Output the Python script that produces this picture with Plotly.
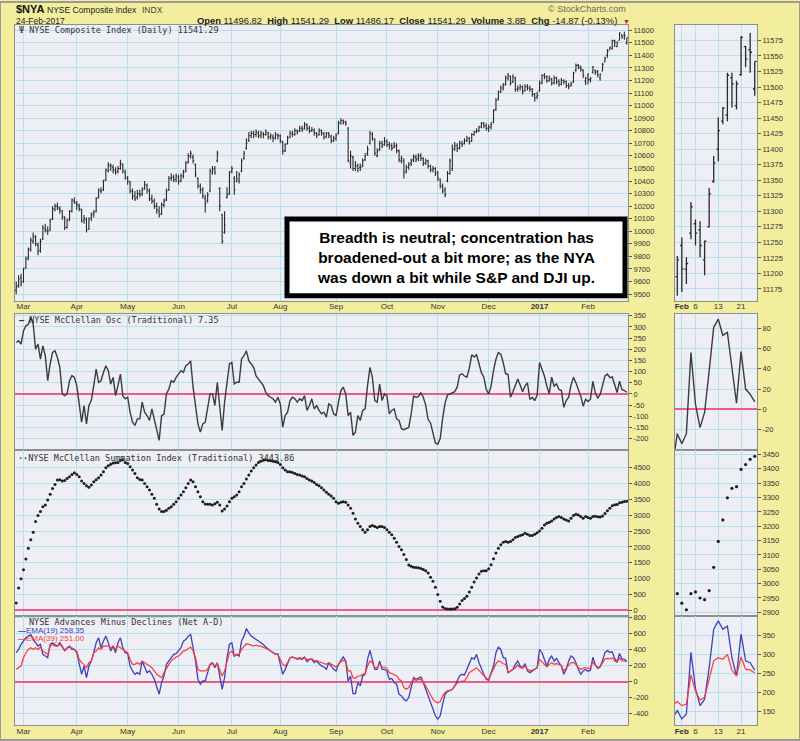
import pandas as pd
import plotly.graph_objects as go

# --- trading days on the chart (NYSE calendar, Feb 2016 - Feb 2017) ---
holidays = ["2016-03-25", "2016-05-30", "2016-07-04", "2016-09-05", "2016-11-24",
            "2016-12-26", "2017-01-02", "2017-01-16", "2017-02-20"]
dates = pd.bdate_range("2016-02-25", "2017-02-24", freq="C",
                       holidays=holidays).strftime("%Y-%m-%d").tolist()

month_labels = ["Mar", "Apr", "May", "Jun", "Jul", "Aug", "Sep", "Oct", "Nov", "Dec",
                "<b>2017</b>", "Feb"]
zoom_ticks = ["2017-02-01", "2017-02-06", "2017-02-13", "2017-02-21"]
zoom_labels = ["<b>Feb</b>", "6", "13", "21"]

# --- $NYA daily bars ---
opens = [9530, 9570, 9630,
         9600, 9710, 9790, 9850, 9920, 9950, 9890, 9850, 9940, 10020, 10000, 10010, 10100, 10170, 10200, 10180, 10160, 10110, 10030, 10100, 10160, 10240,
         10220, 10200, 10170, 10090, 10090, 10020, 10110, 10140, 10160, 10270, 10320, 10330, 10410, 10480, 10520, 10510, 10480, 10480, 10500, 10530, 10470,
         10420, 10390, 10320, 10280, 10270, 10300, 10300, 10340, 10360, 10320, 10260, 10240, 10200, 10160, 10140, 10210, 10250, 10330, 10420, 10430, 10410,
         10430, 10400, 10440, 10480, 10550, 10600, 10590, 10530, 10420, 10360, 10330, 10260, 10240, 10320, 10470, 10500, 10560, 10340, 10130, 9990, 10270, 10300,
         10480, 10420, 10400, 10400, 10480, 10580, 10660, 10720, 10760, 10780, 10770, 10780, 10760, 10770, 10770, 10780, 10750, 10750, 10740, 10760,
         10760, 10710, 10640, 10700, 10750, 10780, 10770, 10800, 10800, 10820, 10820, 10840, 10820, 10800, 10800, 10780, 10770, 10800, 10780, 10750, 10780, 10750, 10720,
         10740, 10780, 10860, 10880, 10870, 10820, 10540, 10590, 10500, 10520, 10510, 10520, 10570, 10620, 10700, 10770, 10730, 10600, 10650, 10700, 10690,
         10710, 10690, 10680, 10670, 10680, 10640, 10560, 10560, 10480, 10510, 10540, 10570, 10590, 10580, 10600, 10580, 10540, 10560, 10520, 10490, 10500,
         10470, 10410, 10360, 10330, 10400, 10460, 10500, 10660, 10680, 10660, 10700, 10700, 10720, 10740, 10720, 10770, 10790, 10800, 10830, 10860, 10840,
         10820, 10830, 10870, 10970, 11050, 11110, 11140, 11170, 11220, 11230, 11190, 11220, 11130, 11140, 11150, 11120, 11150, 11140, 11130, 11090, 11070,
         11120, 11180, 11240, 11230, 11200, 11210, 11180, 11220, 11190, 11170, 11200, 11190, 11160, 11160, 11190, 11280, 11320, 11300, 11280, 11195,
         11245, 11207, 11265, 11280, 11270, 11222, 11275, 11348, 11400, 11445, 11455, 11515, 11470, 11520, 11565, 11560, 11496.82]
highs = [9600, 9650, 9660,
         9710, 9800, 9870, 9950, 9990, 9970, 9910, 9940, 10050, 10060, 10040, 10100, 10200, 10220, 10230, 10200, 10170, 10120, 10100, 10170, 10260, 10270,
         10240, 10220, 10180, 10130, 10110, 10110, 10150, 10170, 10270, 10340, 10350, 10410, 10500, 10550, 10540, 10530, 10510, 10520, 10570, 10540, 10490,
         10440, 10400, 10340, 10320, 10330, 10330, 10350, 10400, 10380, 10340, 10290, 10260, 10230, 10200, 10230, 10260, 10340, 10440, 10460, 10450, 10460,
         10450, 10460, 10490, 10560, 10620, 10640, 10610, 10540, 10430, 10380, 10350, 10290, 10310, 10500, 10520, 10520, 10640, 10350, 10140, 10160, 10350, 10480,
         10520, 10440, 10480, 10470, 10580, 10640, 10740, 10790, 10800, 10800, 10810, 10800, 10800, 10790, 10810, 10790, 10780, 10770, 10790, 10780,
         10770, 10720, 10700, 10760, 10800, 10800, 10820, 10810, 10840, 10840, 10870, 10860, 10840, 10830, 10820, 10790, 10820, 10810, 10790, 10790, 10790, 10770, 10760,
         10780, 10880, 10900, 10890, 10880, 10830, 10640, 10600, 10560, 10540, 10540, 10580, 10620, 10680, 10800, 10790, 10740, 10660, 10720, 10720, 10750,
         10730, 10710, 10700, 10710, 10700, 10650, 10600, 10580, 10530, 10550, 10580, 10610, 10610, 10620, 10620, 10590, 10580, 10570, 10530, 10520, 10510,
         10480, 10420, 10380, 10350, 10480, 10580, 10690, 10710, 10700, 10720, 10720, 10740, 10760, 10750, 10780, 10800, 10820, 10840, 10870, 10870, 10860,
         10850, 10870, 10970, 11060, 11120, 11160, 11180, 11240, 11260, 11240, 11250, 11230, 11160, 11170, 11160, 11170, 11170, 11160, 11140, 11100, 11110,
         11200, 11250, 11260, 11240, 11240, 11220, 11240, 11230, 11210, 11220, 11210, 11200, 11180, 11190, 11270, 11335, 11330, 11320, 11290, 11228,
         11258, 11226, 11315, 11287, 11284, 11253, 11338, 11389, 11451, 11468, 11523, 11523, 11510, 11582, 11566, 11587, 11541.29]
lows = [9500, 9550, 9560,
        9590, 9700, 9770, 9840, 9900, 9880, 9810, 9830, 9930, 9990, 9970, 10000, 10090, 10160, 10170, 10140, 10090, 10010, 10020, 10080, 10150, 10220,
        10170, 10160, 10070, 10060, 9990, 10010, 10080, 10110, 10150, 10260, 10300, 10320, 10400, 10470, 10480, 10460, 10450, 10460, 10490, 10460, 10410,
        10370, 10300, 10250, 10240, 10250, 10270, 10280, 10330, 10300, 10240, 10220, 10180, 10140, 10110, 10130, 10190, 10240, 10320, 10400, 10390, 10390,
        10370, 10390, 10420, 10470, 10540, 10580, 10540, 10430, 10340, 10300, 10260, 10150, 10230, 10310, 10450, 10450, 10550, 10160, 9900, 9980, 10260, 10290,
        10460, 10290, 10390, 10380, 10470, 10570, 10650, 10710, 10740, 10740, 10750, 10740, 10740, 10740, 10760, 10730, 10730, 10710, 10730, 10730,
        10700, 10610, 10630, 10690, 10740, 10750, 10760, 10770, 10790, 10790, 10810, 10800, 10780, 10790, 10760, 10740, 10760, 10760, 10730, 10740, 10740, 10700, 10710,
        10720, 10770, 10850, 10850, 10840, 10550, 10500, 10480, 10480, 10470, 10480, 10510, 10560, 10600, 10690, 10720, 10600, 10590, 10640, 10660, 10680,
        10670, 10650, 10640, 10660, 10620, 10550, 10540, 10420, 10460, 10490, 10520, 10550, 10550, 10560, 10560, 10520, 10530, 10500, 10470, 10470, 10440,
        10400, 10340, 10300, 10270, 10390, 10450, 10480, 10640, 10630, 10650, 10670, 10690, 10710, 10690, 10710, 10760, 10780, 10790, 10820, 10820, 10800,
        10790, 10810, 10860, 10960, 11040, 11100, 11120, 11160, 11200, 11160, 11180, 11110, 11110, 11120, 11090, 11110, 11120, 11110, 11070, 11030, 11050,
        11110, 11170, 11210, 11180, 11190, 11160, 11170, 11170, 11150, 11160, 11170, 11140, 11130, 11150, 11180, 11270, 11290, 11270, 11220, 11164,
        11170, 11183, 11255, 11245, 11226, 11197, 11274, 11346, 11380, 11440, 11445, 11467, 11464, 11518, 11532, 11523, 11486.17]
closes = [9560, 9620, 9590,
          9700, 9780, 9860, 9930, 9960, 9900, 9840, 9920, 10030, 10010, 10000, 10090, 10180, 10200, 10190, 10170, 10120, 10030, 10090, 10160, 10250, 10230,
          10210, 10180, 10080, 10100, 10010, 10100, 10130, 10150, 10260, 10330, 10320, 10400, 10490, 10530, 10520, 10490, 10470, 10500, 10540, 10480, 10430,
          10400, 10320, 10280, 10260, 10300, 10290, 10330, 10370, 10330, 10260, 10240, 10200, 10170, 10130, 10210, 10240, 10320, 10420, 10430, 10410, 10440,
          10400, 10440, 10470, 10540, 10600, 10620, 10560, 10450, 10360, 10330, 10280, 10220, 10290, 10480, 10490, 10470, 10620, 10200, 9920, 10050, 10290, 10470,
          10500, 10330, 10420, 10450, 10560, 10620, 10700, 10760, 10780, 10770, 10790, 10760, 10780, 10770, 10790, 10750, 10760, 10740, 10770, 10760,
          10720, 10640, 10690, 10740, 10780, 10770, 10800, 10790, 10820, 10810, 10850, 10820, 10800, 10810, 10780, 10760, 10800, 10780, 10750, 10780, 10760, 10720, 10740,
          10760, 10860, 10880, 10870, 10860, 10560, 10600, 10500, 10520, 10500, 10510, 10560, 10600, 10650, 10780, 10740, 10620, 10640, 10700, 10680, 10720,
          10690, 10680, 10660, 10680, 10640, 10570, 10580, 10470, 10510, 10530, 10560, 10590, 10570, 10600, 10580, 10540, 10560, 10520, 10490, 10500, 10460,
          10420, 10360, 10320, 10290, 10460, 10560, 10650, 10680, 10660, 10700, 10690, 10720, 10740, 10710, 10770, 10790, 10800, 10830, 10860, 10840, 10820,
          10830, 10850, 10960, 11040, 11110, 11140, 11160, 11220, 11240, 11180, 11230, 11130, 11140, 11150, 11110, 11150, 11140, 11130, 11090, 11060, 11080,
          11180, 11240, 11230, 11200, 11220, 11180, 11220, 11190, 11170, 11200, 11190, 11160, 11150, 11170, 11260, 11320, 11310, 11290, 11240, 11222,
          11207, 11216, 11307, 11265, 11245, 11252, 11328, 11378, 11430, 11466, 11519, 11505, 11505, 11580, 11545, 11556, 11541.29]

# --- NYSE McClellan Oscillator ---
osc = [230, 238, 223,
       282, 305, 312, 345, 312, 200, 223, 156, 215, 171, 59, 134, 186, 193, 163, 119, 0, -8, 0, 59, 82, 74,
       37, -45, -127, -52, -134, -52, -30, 37, 111, 52, 59, 96, 126, 104, 44, 74, -8, 37, 89, -8, -22,
       -15, -82, -127, -141, -112, -112, -37, -82, -97, -119, -67, -112, -157, -208, -97, -90, 0, 22, 59, 52, 74,
       89, 104, 96, 126, 134, 148, 30, -67, -134, -171, -134, -127, -52, 0, 0, -52, 52, -52, -164, -37, 52, 134,
       141, 44, 52, 52, 156, 171, 193, 149, 134, 119, 81, 67, 52, 37, 7, -8, -15, -22, -37, -15,
       -45, -149, -97, -82, -30, -15, -22, -37, -22, -30, -8, -74, -52, -22, -67, -52, -74, -89, -82, -104, -45, -52, -89,
       -97, -37, 15, 30, 0, -97, -82, -186, -171, -97, -119, -74, -67, 37, 119, 74, -30, -37, 44, -30, 0,
       -8, -89, -74, -67, -112, -119, -156, -160, -155, -150, -90, -10, -15, -12, 5, -15, -50, -115, -130, -175, -220,
       -225, -200, -110, -40, -5, 0, 3, 10, 30, 85, 90, 80, 75, 115, 175, 165, 175, 135, 95, 75, 20,
       0, 35, 105, 155, 185, 178, 140, 90, 88, -15, 10, 35, 67, 40, 10, 35, 50, -25, -15, -30, -5,
       141, 110, 80, 35, 0, 75, 35, 45, 20, 15, -60, -30, -15, 40, 74, 50, 20, -10, -55, -24,
       -34, -24, 56, 5, -18, -3, 38, 81, 89, 73, 76, 40, 6, 57, 20, 15, 7.35]

# --- NYSE McClellan Summation Index ---
summation = [231, 703, 997,
             1280, 1616, 1962, 2224, 2466, 2801, 2990, 3116, 3273, 3326, 3483, 3661, 3850, 3976, 4113, 4123, 4081, 4102, 4165, 4217, 4291, 4343,
             4291, 4217, 4081, 4008, 3934, 3882, 3955, 4060, 4123, 4186, 4270, 4375, 4501, 4564, 4616, 4648, 4658, 4669, 4731, 4752, 4669,
             4637, 4532, 4427, 4322, 4186, 4134, 4113, 4008, 3903, 3798, 3661, 3536, 3347, 3200, 3116, 3116, 3158, 3221, 3273, 3347, 3431,
             3536, 3640, 3745, 3871, 4008, 4113, 4060, 3903, 3745, 3588, 3431, 3357, 3347, 3347, 3326, 3368, 3410, 3326, 3137, 3200, 3294, 3431,
             3536, 3588, 3640, 3745, 3903, 4008, 4144, 4270, 4396, 4501, 4585, 4669, 4710, 4742, 4752, 4731, 4721, 4710, 4690, 4669,
             4606, 4501, 4427, 4375, 4375, 4354, 4322, 4291, 4270, 4238, 4217, 4165, 4113, 4081, 4039, 3976, 3934, 3871, 3798, 3724, 3661, 3609, 3536,
             3431, 3378, 3410, 3431, 3410, 3326, 3221, 3063, 2885, 2749, 2644, 2539, 2466, 2539, 2644, 2675, 2644, 2612, 2644, 2644, 2612,
             2539, 2466, 2382, 2277, 2151, 2015, 1910, 1760, 1600, 1430, 1390, 1360, 1350, 1340, 1320, 1290, 1249, 1175, 1039, 913, 724,
             493, 284, 105, 55, 40, 35, 38, 45, 95, 200, 305, 368, 441, 578, 724, 892, 1018, 1144, 1228, 1249, 1249,
             1312, 1438, 1627, 1805, 1962, 2067, 2151, 2172, 2151, 2172, 2224, 2298, 2329, 2361, 2382, 2434, 2403, 2361, 2361, 2403, 2450,
             2507, 2591, 2696, 2749, 2780, 2822, 2885, 2927, 2958, 2927, 2885, 2854, 2822, 2906, 2990, 3032, 3011, 2958, 2906, 2965,
             2932, 2909, 2965, 2971, 2950, 2944, 2976, 3057, 3147, 3222, 3299, 3332, 3338, 3398, 3415, 3433, 3443.86]

# --- NYSE Advances minus Declines, EMA(19) and EMA(39) ---
ema19 = [362, 403, 466,
         508, 549, 570, 591, 528, 487, 445, 466, 341, 320, 299, 466, 487, 466, 445, 487, 445, 391, 424, 445, 403, 403,
         362, 216, 91, 195, 49, 195, 258, 362, 487, 549, 424, 508, 570, 487, 383, 445, 362, 487, 549, 424, 362,
         349, 195, 133, 91, 112, 91, 258, 174, 112, 133, 91, 28, -76, -159, -13, 70, 216, 258, 299, 341, 349,
         383, 424, 508, 528, 570, 591, 424, 258, 28, -34, 7, 7, 112, 216, 237, 174, 237, 91, -97, 49, 299, 466,
         487, 320, 341, 320, 508, 570, 666, 612, 570, 549, 528, 508, 487, 466, 433, 403, 383, 362, 341, 349,
         237, 91, 153, 216, 299, 308, 291, 278, 291, 278, 308, 249, 278, 278, 237, 258, 224, 195, 183, 153, 237, 195, 153,
         133, 216, 266, 308, 258, 7, 70, -151, -151, -13, -55, 70, 91, 278, 391, 278, 153, 153, 258, 153, 153,
         133, 28, 41, -13, -34, -159, -180, -221, -242, -201, -76, 49, 28, 41, 58, -13, -97, -201, -263, -347, -430,
         -472, -430, -284, -159, -126, -109, -97, -55, 10, 70, 91, 83, 153, 237, 299, 278, 341, 237, 153, 91, 28,
         16, 112, 195, 362, 433, 403, 299, 291, 112, 133, 153, 216, 258, 195, 174, 224, 133, 112, 133, 150, 174,
         403, 362, 278, 195, 278, 320, 258, 291, 237, 195, 91, 153, 258, 320, 299, 237, 153, 91, 133, 152,
         130, 143, 305, 209, 165, 182, 265, 366, 388, 366, 374, 291, 243, 353, 283, 278, 258.35]
ema39 = [153, 174, 195,
         299, 362, 403, 424, 403, 424, 403, 433, 383, 362, 341, 445, 466, 445, 445, 466, 433, 383, 416, 433, 424, 403,
         383, 278, 237, 216, 174, 237, 258, 362, 383, 424, 403, 445, 445, 445, 424, 445, 403, 445, 424, 403, 383,
         362, 278, 216, 216, 237, 216, 258, 237, 216, 195, 174, 133, 91, 70, 49, 112, 174, 216, 258, 291, 308,
         320, 349, 383, 391, 416, 433, 383, 299, 153, 133, 133, 133, 153, 216, 224, 195, 224, 153, 70, 133, 258, 362,
         383, 320, 341, 341, 403, 445, 474, 466, 458, 445, 458, 445, 445, 433, 424, 403, 383, 362, 349, 341,
         278, 216, 195, 237, 299, 308, 299, 291, 299, 291, 299, 278, 278, 287, 258, 266, 249, 237, 224, 216, 237, 216, 195,
         183, 216, 249, 266, 249, 133, 133, 49, 41, 70, 70, 91, 99, 195, 258, 237, 174, 174, 224, 183, 183,
         166, 112, 99, 83, 70, 28, 7, -76, -97, -76, -13, 28, 16, 24, 28, 0, -55, -117, -167, -221, -251,
         -267, -251, -180, -138, -117, -109, -97, -55, -20, 0, 8, 8, 49, 112, 133, 153, 174, 141, 112, 83, 41,
         28, 91, 153, 224, 258, 249, 224, 216, 112, 133, 153, 174, 208, 174, 166, 195, 153, 141, 141, 160, 174,
         278, 249, 216, 183, 216, 237, 216, 224, 216, 195, 133, 166, 208, 237, 237, 216, 174, 153, 166, 176,
         165, 169, 246, 202, 180, 187, 235, 283, 291, 287, 300, 258, 243, 293, 261, 259, 251.00]

# y-axis tick labels of every panel
price_ticks = list(range(9500, 11700, 100))
osc_ticks = list(range(-200, 400, 50))
sum_ticks = list(range(0, 5000, 500))
ad_ticks = list(range(-400, 1000, 200))
zprice_ticks = list(range(11175, 11600, 25))
zosc_ticks = [-20, 0, 20, 40, 60, 80]
zsum_ticks = list(range(2900, 3500, 50))
zad_ticks = [150, 200, 250, 300, 350]

# colours
YELLOW = "#f3ee9e"
PLOTBG = "#eeeef5"
GRID = "#b5e0f0"
EDGE = "#8e8e8e"
PINK = "#ee5c88"
INK = "#2a2a2a"
BLUE = "#4040b8"
RED = "#ff3838"
SANS = "Liberation Sans, Arial"
MONO = "DejaVu Sans Mono"

W, H = 800, 741


def fx(px):
    return px / W


def fy(py):
    return 1 - py / H


month_ticks = [d for i, d in enumerate(dates) if i > 0 and d[:7] != dates[i - 1][:7]]
n = len(dates)
zoom_dates = dates[-19:]   # one extra day so lines enter from the left edge

main_x = [fx(15), fx(628)]
zoom_x = [fx(675), fx(757)]
rows = [(23, 300), (313, 450), (450, 616), (616, 726)]
row_dom = [[fy(b), fy(t)] for t, b in rows]

fig = go.Figure()

# price bars
fig.add_trace(go.Ohlc(x=dates, open=opens, high=highs, low=lows, close=closes,
                      increasing_line_color=INK, decreasing_line_color=INK,
                      line_width=1.1, tickwidth=0.45, xaxis="x", yaxis="y", hoverinfo="skip"))
fig.add_trace(go.Ohlc(x=zoom_dates, open=opens[-19:], high=highs[-19:], low=lows[-19:], close=closes[-19:],
                      increasing_line_color=INK, decreasing_line_color=INK,
                      line_width=1.3, tickwidth=0.4, xaxis="x5", yaxis="y5", hoverinfo="skip"))

# McClellan oscillator
fig.add_trace(go.Scatter(x=dates, y=osc, mode="lines", line=dict(color="#3c3c3c", width=1.4),
                         xaxis="x2", yaxis="y2"))
fig.add_trace(go.Scatter(x=zoom_dates, y=osc[-19:], mode="lines", line=dict(color="#3c3c3c", width=1.4),
                         xaxis="x6", yaxis="y6"))

# summation index (dots)
fig.add_trace(go.Scatter(x=dates, y=summation, mode="markers",
                         marker=dict(color="#1e1e1e", size=3), xaxis="x3", yaxis="y3"))
fig.add_trace(go.Scatter(x=zoom_dates, y=summation[-19:], mode="markers",
                         marker=dict(color="#1e1e1e", size=3.2), xaxis="x7", yaxis="y7"))

# net advances-declines EMAs
for xa, ya, sl in [("x4", "y4", slice(0, n)), ("x8", "y8", slice(n - 19, n))]:
    xs = dates[sl]
    fig.add_trace(go.Scatter(x=xs, y=ema19[sl], mode="lines", line=dict(color=BLUE, width=1.3),
                             xaxis=xa, yaxis=ya))
    fig.add_trace(go.Scatter(x=xs, y=ema39[sl], mode="lines", line=dict(color=RED, width=1.2),
                             xaxis=xa, yaxis=ya))


def make_x(domain, anchor, tickvals, ticktext, rng, labels):
    return dict(domain=domain, anchor=anchor, type="category", range=rng,
                tickmode="array", tickvals=tickvals, ticktext=ticktext, showticklabels=labels,
                showgrid=True, gridcolor=GRID, gridwidth=1, ticks="",
                showline=True, linecolor=EDGE, linewidth=1, mirror=True, zeroline=False,
                tickfont=dict(family=SANS, size=8, color="#333"), ticklabelstandoff=-2,
                rangeslider=dict(visible=False), fixedrange=True)


def make_y(domain, anchor, rng, ticks):
    return dict(domain=domain, anchor=anchor, side="right", range=rng,
                tickmode="array", tickvals=ticks, ticktext=[str(t) for t in ticks],
                showgrid=True, gridcolor=GRID, gridwidth=1,
                zeroline=True, zerolinecolor=PINK, zerolinewidth=1.6,
                ticks="outside", ticklen=3, tickcolor="#555",
                showline=True, linecolor=EDGE, linewidth=1, mirror=True,
                tickfont=dict(family=SANS, size=7.5, color="#333"), fixedrange=True)


main_rng = [-0.5, n - 0.5]
zoom_rng = [0.5, 18.5]
layout_axes = {
    "xaxis": make_x(main_x, "y", month_ticks, month_labels, main_rng, True),
    "xaxis2": make_x(main_x, "y2", month_ticks, month_labels, main_rng, False),
    "xaxis3": make_x(main_x, "y3", month_ticks, month_labels, main_rng, False),
    "xaxis4": make_x(main_x, "y4", month_ticks, month_labels, main_rng, True),
    "xaxis5": make_x(zoom_x, "y5", zoom_ticks, zoom_labels, zoom_rng, True),
    "xaxis6": make_x(zoom_x, "y6", zoom_ticks, zoom_labels, zoom_rng, False),
    "xaxis7": make_x(zoom_x, "y7", zoom_ticks, zoom_labels, zoom_rng, False),
    "xaxis8": make_x(zoom_x, "y8", zoom_ticks, zoom_labels, zoom_rng, True),
    "yaxis": make_y(row_dom[0], "x", [9447, 11642], price_ticks),
    "yaxis2": make_y(row_dom[1], "x2", [-252, 359], osc_ticks),
    "yaxis3": make_y(row_dom[2], "x3", [-167, 5057], sum_ticks),
    "yaxis4": make_y(row_dom[3], "x4", [-546, 829], ad_ticks),
    "yaxis5": make_y(row_dom[0], "x5", [11156, 11600], zprice_ticks),
    "yaxis6": make_y(row_dom[1], "x6", [-40.3, 94.4], zosc_ticks),
    "yaxis7": make_y(row_dom[2], "x7", [2889, 3465], zsum_ticks),
    "yaxis8": make_y(row_dom[3], "x8", [114, 402], zad_ticks),
}


def note(text, x, y, size=9, color="#222", family=SANS, xanchor="left"):
    return dict(text=text, x=fx(x), y=fy(y), xref="paper", yref="paper", showarrow=False,
                xanchor=xanchor, yanchor="middle", font=dict(family=family, size=size, color=color))


annotations = [
    note("<b>$NYA</b>", 14, 7.5, size=11, color="#111"),
    note("NYSE Composite Index", 45, 8, size=8.5),
    note("INDX", 140, 8, size=8.5, color="#444"),
    note("24-Feb-2017", 14, 19, size=8.5),
    note("<b>Open</b> 11496.82  <b>High</b> 11541.29  <b>Low</b> 11486.17  <b>Close</b> 11541.29  "
         "<b>Volume</b> 3.8B  <b>Chg</b> -14.87 (-0.13%)", 619, 19, size=9.4, xanchor="right"),
    note("▼", 621, 19.5, size=7, color="#c0104a"),
    note("© StockCharts.com", 628, 7.5, size=9, color="#666", xanchor="right"),
    note("Ψ NYSE Composite Index (Daily) 11541.29", 17, 28.5, size=8.5, color="#333", family=MONO),
    note("<b>—</b> NYSE McClellan Osc (Traditional) 7.35", 17, 319, size=8.5, color="#333", family=MONO),
    note("<b>··</b>NYSE McClellan Summation Index (Traditional) 3443.86", 16, 457.5, size=8.5,
         color="#333", family=MONO),
    note("NYSE Advances Minus Declines (Net A-D)", 27, 622.5, size=8.5, color="#333", family=MONO),
    note("<b>—</b>EMA(19) 258.35", 16, 631, size=8, color=BLUE),
    note("<b>—</b>EMA(39) 251.00", 16, 639.5, size=8, color=RED),
    dict(text="<b>Breadth is neutral; concentration has<br>broadened-out a bit more; as the NYA<br>"
              "was down a bit while S&P and DJI up.</b>",
         x=fx(456), y=fy(257), xref="paper", yref="paper", showarrow=False,
         xanchor="center", yanchor="middle", align="center",
         font=dict(family=SANS, size=15.5, color="#000")),
]

shapes = [
    # comment box
    dict(type="rect", xref="paper", yref="paper", x0=fx(287), x1=fx(625), y0=fy(295), y1=fy(218),
         line=dict(color="#000", width=5), fillcolor="#ffffff", layer="above"),
    # outer frame of the picture
    dict(type="rect", xref="paper", yref="paper", x0=0, x1=1, y0=0, y1=1,
         line=dict(color="#9a9a9a", width=2)),
]

fig.update_layout(
    width=W, height=H, margin=dict(l=0, r=0, t=0, b=0),
    paper_bgcolor=YELLOW, plot_bgcolor=PLOTBG,
    showlegend=False, hovermode=False,
    annotations=annotations, shapes=shapes,
    **layout_axes,
)

# the page body has a default margin; drop it so the chart fills the window exactly
fig.write_html("out.html", config={"displayModeBar": False},
               post_script="document.body.style.margin='0px';")
